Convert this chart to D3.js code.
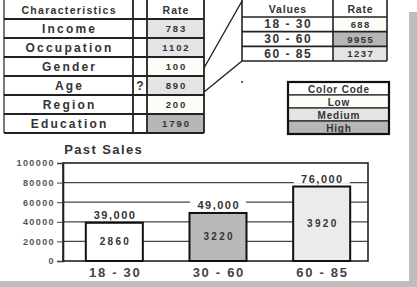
<!DOCTYPE html>
<html lang="en">
<head>
<meta charset="UTF-8">
<title>Past Sales</title>
<style>
  body, html { margin: 0; padding: 0; background: #fff; }
  svg { display: block; font-family: "Liberation Sans", Arial, sans-serif; font-weight: bold; }
</style>
<script src="https://d3js.org/d3.v7.min.js"></script>
</head>
<body>
<div id="chart"></div>
<script>
// characteristics table
const characteristics = ["Income", "Occupation", "Gender", "Age", "Region", "Education"];
const charRates = [783, 1102, 100, 890, 200, 1790];
const charLevels = ["Medium", "Medium", "Low", "Medium", "Low", "High"];
const charFlags = ["", "", "", "?", "", ""];

// age breakdown table
const ageGroups = ["18 - 30", "30 - 60", "60 - 85"];
const ageRates = [688, 9955, 1237];
const ageLevels = ["Low", "High", "Medium"];

// legend
const colorCodes = ["Low", "Medium", "High"];

// past sales chart
const salesTotals = [39000, 49000, 76000];
const salesCounts = [2860, 3220, 3920];
const yTicks = [0, 20000, 40000, 60000, 80000, 100000];

const W = 417, H = 287;
const levelFill = d3.scaleOrdinal().domain(colorCodes).range(["#fdfdf8", "#e4e4e4", "#b6b6b6"]);
const barFill = d3.scaleOrdinal().domain(ageGroups).range(["#ffffff", "#b9b9b9", "#ebebeb"]);

const svg = d3.select("#chart").append("svg").attr("width", W).attr("height", H);
svg.append("rect").attr("width", W).attr("height", H).attr("fill", "#fff");

// text helper: spaced bold text centred on x
function label(g, x, y, txt, size, ls, color) {
  return g.append("text")
    .attr("x", x + ls / 2).attr("y", y)
    .attr("text-anchor", "middle")
    .attr("dominant-baseline", "central")
    .style("font-size", size + "px")
    .style("letter-spacing", ls + "px")
    .attr("fill", color || "#333")
    .text(txt);
}

// ---------- left table ----------
const lt = svg.append("g");
const ltCols = [4, 133, 147, 204];
const ltRow = d3.scaleBand().domain(characteristics).range([19, 133]);

characteristics.forEach((c, i) => {
  lt.append("rect")
    .attr("x", ltCols[2]).attr("y", ltRow(c))
    .attr("width", ltCols[3] - ltCols[2]).attr("height", ltRow.bandwidth())
    .attr("fill", levelFill(charLevels[i]));
});
[ltRow.range()[0]].concat(characteristics.map(c => ltRow(c) + ltRow.bandwidth())).forEach(y => {
  lt.append("line").attr("x1", ltCols[0]).attr("x2", ltCols[3])
    .attr("y1", y).attr("y2", y).attr("stroke", "#222").attr("stroke-width", 1.8);
});
ltCols.forEach((x, i) => {
  lt.append("line").attr("x1", x).attr("x2", x)
    .attr("y1", -2).attr("y2", ltRow.range()[1])
    .attr("stroke", "#222").attr("stroke-width", i === 0 ? 1.2 : 1.8);
});
label(lt, (ltCols[0] + ltCols[1]) / 2, 10, "Characteristics", 10.5, 1.3);
label(lt, (ltCols[2] + ltCols[3]) / 2, 10, "Rate", 10.5, 1);
characteristics.forEach((c, i) => {
  const cy = ltRow(c) + ltRow.bandwidth() / 2;
  label(lt, (ltCols[0] + ltCols[1]) / 2, cy, c, 12, 2.2, "#333");
  label(lt, (ltCols[2] + ltCols[3]) / 2, cy, charRates[i], 9.5, 1.9, "#333");
  if (charFlags[i]) label(lt, (ltCols[1] + ltCols[2]) / 2, cy, charFlags[i], 12, 0, "#333");
});

// ---------- right table ----------
const rt = svg.append("g");
const rtCols = [242, 333, 387];
const rtRow = d3.scaleBand().domain(ageGroups).range([17, 61]);
ageGroups.forEach((a, i) => {
  rt.append("rect")
    .attr("x", rtCols[1]).attr("y", rtRow(a))
    .attr("width", rtCols[2] - rtCols[1]).attr("height", rtRow.bandwidth())
    .attr("fill", levelFill(ageLevels[i]));
});
[rtRow.range()[0]].concat(ageGroups.map(a => rtRow(a) + rtRow.bandwidth())).forEach(y => {
  rt.append("line").attr("x1", rtCols[0]).attr("x2", rtCols[2])
    .attr("y1", y).attr("y2", y).attr("stroke", "#222").attr("stroke-width", 1.6);
});
rtCols.forEach(x => {
  rt.append("line").attr("x1", x).attr("x2", x)
    .attr("y1", -2).attr("y2", rtRow.range()[1])
    .attr("stroke", "#222").attr("stroke-width", 1.6);
});
label(rt, (rtCols[0] + rtCols[1]) / 2, 9, "Values", 10.5, 0.8);
label(rt, (rtCols[1] + rtCols[2]) / 2, 9, "Rate", 10.5, 0.8);
ageGroups.forEach((a, i) => {
  const cy = rtRow(a) + rtRow.bandwidth() / 2;
  label(rt, (rtCols[0] + rtCols[1]) / 2, cy, a, 12, 1.5, "#333");
  label(rt, (rtCols[1] + rtCols[2]) / 2, cy, ageRates[i], 9.5, 1.4, "#333");
});

// connector lines from "Age" row to right table
const ageY = ltRow("Age");
svg.append("line").attr("x1", ltCols[3]).attr("y1", ltRow("Gender") + 11)
  .attr("x2", rtCols[0]).attr("y2", 1).attr("stroke", "#222").attr("stroke-width", 1.4);
svg.append("line").attr("x1", ltCols[3]).attr("y1", ageY + 16)
  .attr("x2", rtCols[0]).attr("y2", rtRow.range()[1]).attr("stroke", "#222").attr("stroke-width", 1.4);
svg.append("circle").attr("cx", rtCols[0]).attr("cy", 82).attr("r", 1).attr("fill", "#333");

// ---------- colour legend ----------
const lg = svg.append("g");
const lgRow = d3.scaleBand().domain(["Color Code"].concat(colorCodes)).range([82, 134]);
const lgX = [288, 389];
lgRow.domain().forEach(k => {
  lg.append("rect").attr("x", lgX[0]).attr("y", lgRow(k))
    .attr("width", lgX[1] - lgX[0]).attr("height", lgRow.bandwidth())
    .attr("fill", k === "Color Code" ? "#fff" : levelFill(k))
    .attr("stroke", "#222").attr("stroke-width", 1.2);
  label(lg, (lgX[0] + lgX[1]) / 2, lgRow(k) + lgRow.bandwidth() / 2 + 0.5, k, 10, 0.8, "#333");
});
lg.append("rect").attr("x", lgX[0]).attr("y", 82)
  .attr("width", lgX[1] - lgX[0]).attr("height", 52)
  .attr("fill", "none").attr("stroke", "#111").attr("stroke-width", 2.2);

// ---------- past sales chart ----------
const plot = { left: 63, right: 368, top: 163, bottom: 261 };
const x = d3.scaleBand().domain(ageGroups).range([plot.left, 373]).paddingInner(0.45).paddingOuter(0.22);
const y = d3.scaleLinear().domain([0, 100000]).range([plot.bottom, plot.top]);

const ch = svg.append("g");
label(ch, 103, 149, "Past Sales", 13, 1.4, "#333");

// grid
ch.selectAll(".grid").data(yTicks.slice(1, -1)).enter().append("line")
  .attr("x1", plot.left).attr("x2", plot.right)
  .attr("y1", d => y(d)).attr("y2", d => y(d))
  .attr("stroke", "#444").attr("stroke-width", 1.2);

// frame
ch.append("rect").attr("x", plot.left).attr("y", plot.top)
  .attr("width", plot.right - plot.left).attr("height", plot.bottom - plot.top)
  .attr("fill", "none").attr("stroke", "#222").attr("stroke-width", 1.6);

// y axis
const yAxis = ch.append("g").attr("transform", `translate(${plot.left},0)`)
  .call(d3.axisLeft(y).tickValues(yTicks).tickSize(6).tickPadding(2).tickFormat(d3.format("d")));
yAxis.select(".domain").attr("stroke", "#222").attr("stroke-width", 1.6);
yAxis.selectAll(".tick line").attr("stroke", "#444");
yAxis.selectAll(".tick text")
  .style("font-size", "9px").style("letter-spacing", "1.4px")
  .style("font-family", "'Liberation Sans', Arial, sans-serif").style("font-weight", "bold")
  .attr("fill", "#555");

// bars
ch.selectAll(".bar").data(ageGroups).enter().append("rect")
  .attr("x", d => x(d)).attr("width", x.bandwidth())
  .attr("y", (d, i) => y(salesTotals[i]))
  .attr("height", (d, i) => y(0) - y(salesTotals[i]))
  .attr("fill", d => barFill(d))
  .attr("stroke", "#111").attr("stroke-width", 2);

ageGroups.forEach((g, i) => {
  const cx = x(g) + x.bandwidth() / 2;
  // total above bar with knocked-out background
  ch.append("rect").attr("x", cx - 28).attr("y", y(salesTotals[i]) - 14)
    .attr("width", 56).attr("height", 11).attr("fill", "#fff");
  label(ch, cx, y(salesTotals[i]) - 8, d3.format(",")(salesTotals[i]), 11, 1.5, "#333");
  label(ch, cx, (y(salesTotals[i]) + y(0)) / 2, salesCounts[i], 10, 2.3, "#333");
  label(ch, cx, 272, g, 13, 1.7, "#444");
});

// grey border strips of the original screenshot
svg.append("rect").attr("x", 409).attr("y", 12).attr("width", 8).attr("height", H - 12).attr("fill", "#bdbdbd");
svg.append("rect").attr("x", 0).attr("y", 281).attr("width", W).attr("height", 6).attr("fill", "#bdbdbd");
</script>
</body>
</html>
